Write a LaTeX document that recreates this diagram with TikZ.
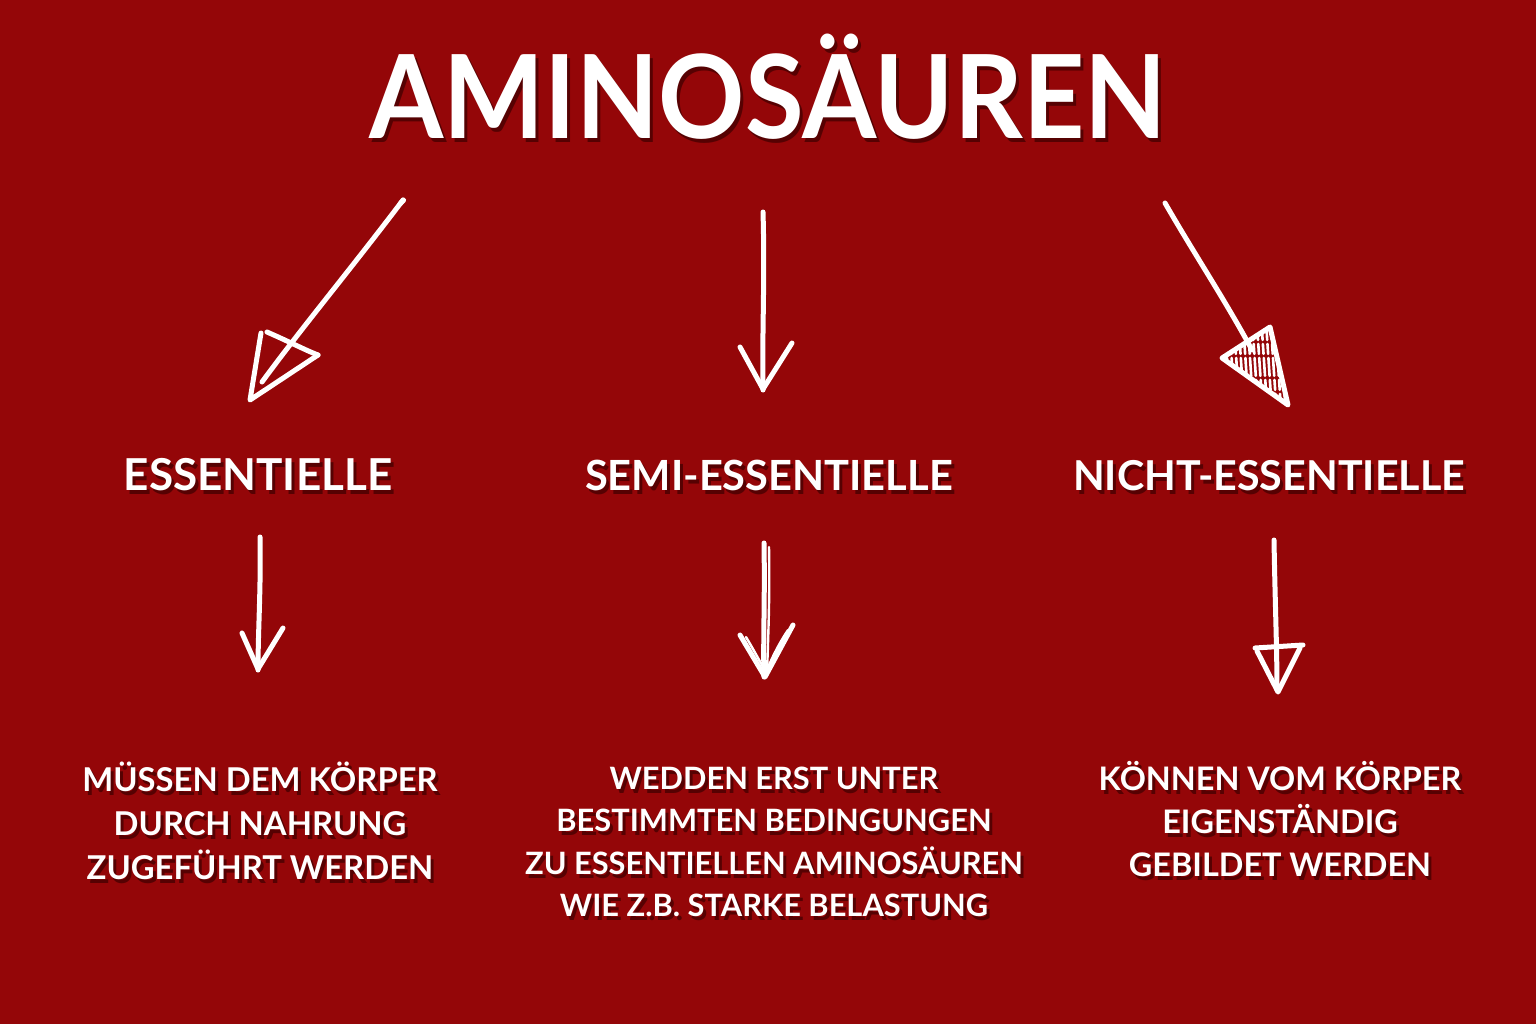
\documentclass[tikz,border=0pt]{standalone}
\usepackage{fontspec}
\setmainfont{Lato}
\definecolor{bg}{RGB}{148,6,8}
\definecolor{shade}{RGB}{60,0,0}
\tikzset{
  txt/.style={text=white,inner sep=0pt,align=center},
  txtsh/.style={text=shade,inner sep=0pt,align=center,opacity=0.7},
  pen/.style={draw=white,line width=2.5pt,line cap=round,line join=round},
  thinpen/.style={draw=white,line width=1.2pt,line cap=round,line join=round},
  titlefont/.style={font=\fontsize{58}{58}\selectfont\bfseries},
  headfont/.style={font=\fontsize{#1}{20}\selectfont\bfseries},
  bodyfont/.style 2 args={font=\fontsize{#1}{#2}\selectfont\bfseries},
}
\newcommand{\shtext}[6]{% name, x, y, anchor, style, text
  \node[txtsh,#5,anchor=#4] (#1-sh) at (#2+3,#3+4) {#6};
  \node[txt,#5,anchor=#4] (#1) at (#2,#3) {#6};}
\begin{document}
\begin{tikzpicture}[x=0.5pt,y=-0.5pt]
\fill[bg] (0,0) rectangle (1536,1024);
\useasboundingbox (0,0) rectangle (1536,1024);

% title and headings
\shtext{title}{768}{138}{base}{titlefont}{\scalebox{0.922}[1]{AMINOSÄUREN}}
\shtext{ess}{258}{490}{base}{headfont=22}{ESSENTIELLE}
\shtext{semi}{769}{490}{base}{headfont=20.8}{SEMI-ESSENTIELLE}
\shtext{nicht}{1269}{490}{base}{headfont=20.6}{NICHT-ESSENTIELLE}

% body texts
\shtext{essb}{260}{821}{center}{bodyfont={16.4}{22}}{MÜSSEN DEM KÖRPER\\ DURCH NAHRUNG\\ ZUGEFÜHRT WERDEN}
\shtext{semib}{774}{842}{center}{bodyfont={15.4}{21.2}}{WEDDEN ERST UNTER\\ BESTIMMTEN BEDINGUNGEN\\ ZU ESSENTIELLEN AMINOSÄUREN\\ WIE Z.B. STARKE BELASTUNG}
\shtext{nichtb}{1280}{819}{center}{bodyfont={16.2}{21.3}}{KÖNNEN VOM KÖRPER\\ EIGENSTÄNDIG\\ GEBILDET WERDEN}

% arrow end points
\coordinate (a1s) at (403,200); \coordinate (a1e) at (262,382);
\coordinate (a2s) at (763,212); \coordinate (a2e) at (763,390);
\coordinate (a3s) at (1165,203); \coordinate (a3e) at (1252,350);
\coordinate (b1s) at (260,537); \coordinate (b1e) at (258,670);
\coordinate (b2s) at (764,543); \coordinate (b2e) at (764,677);
\coordinate (b3s) at (1274,540); \coordinate (b3e) at (1277,690);

% left big arrow (open triangle)
\draw[pen] (400,204) .. controls (402,201) and (405,200) .. (a1s);
\draw[pen] (a1s) .. controls (350,270) and (300,330) .. (a1e);
\draw[pen] (261,333) -- (250,400) -- (318,355);
\draw[pen] (267,332) .. controls (290,342) and (305,350) .. (318,355);

% middle top arrow
\draw[pen] (a2s) .. controls (765,280) and (762,330) .. (a2e);
\draw[pen] (740,347) -- (763,389) -- (792,343);

% right top arrow (hatched triangle)
\draw[pen] (a3s) .. controls (1195,255) and (1225,300) .. (a3e);
\begin{scope}
  \clip (1222,358) -- (1270,327) -- (1288,405) -- cycle;
  \foreach \k in {0,...,14}{
    \draw[white,line width=1.3pt,line cap=round,dash pattern=on 9pt off 2pt on 5pt off 2pt]
      (1220+\k*4.6,322) -- (1226+\k*4.6,412);
  }
\end{scope}
\draw[pen] (1222,358) -- (1270,327) -- (1288,405) -- cycle;

% lower left arrow
\draw[pen] (b1s) .. controls (261,590) and (258,630) .. (b1e);
\draw[pen] (242,633) -- (258,669) -- (283,628);

% lower middle arrow (double strokes)
\draw[pen] (b2s) .. controls (765,600) and (763,640) .. (b2e);
\draw[thinpen] (769,547) .. controls (770,600) and (768,640) .. (767,674);
\draw[pen] (740,635) -- (765,677) -- (793,625);
\draw[thinpen] (746,637) .. controls (755,652) and (760,662) .. (766,672);
\draw[thinpen] (788,630) .. controls (778,645) and (771,660) .. (766,672);

% lower right arrow (open triangle)
\draw[pen] (b3s) .. controls (1275,600) and (1277,650) .. (b3e);
\draw[pen] (1255,648) -- (1303,645);
\draw[pen] (1257,651) -- (1278,692) -- (1300,648);
\end{tikzpicture}
\end{document}
